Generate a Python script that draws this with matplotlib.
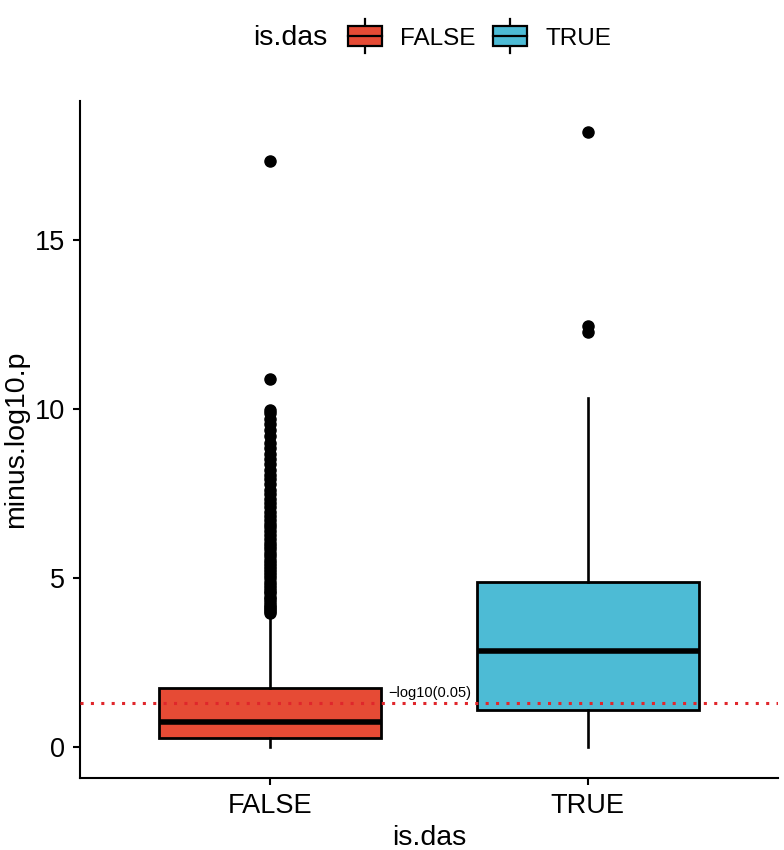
import matplotlib
matplotlib.use("Agg")
import matplotlib.pyplot as plt
from matplotlib.patches import Rectangle
from matplotlib.lines import Line2D
from matplotlib.legend_handler import HandlerBase

plt.rcParams['font.family'] = ['Liberation Sans', 'DejaVu Sans']

# values
groups = ['FALSE', 'TRUE']
colors = ['#E64B35', '#4DBBD5']
q1 = [0.27, 1.09]
median = [0.74, 2.84]
q3 = [1.75, 4.88]
whis_lo = [0.0, 0.0]
whis_hi = [3.88, 10.33]
fliers_false = [3.97, 4.02, 4.08, 4.15, 4.22, 4.30, 4.37, 4.45, 4.55, 4.63,
                4.72, 4.80, 4.90, 5.00, 5.08, 5.17, 5.27, 5.36, 5.45, 5.55,
                5.66, 5.75, 5.86, 5.95, 6.05, 6.16, 6.27, 6.38, 6.50, 6.60,
                6.72, 6.85, 6.97, 7.10, 7.22, 7.35, 7.50, 7.62, 7.78, 7.92,
                8.05, 8.20, 8.38, 8.52, 8.68, 8.85, 9.00, 9.20, 9.38, 9.55,
                9.72, 9.88, 9.98, 10.90, 17.35]
fliers_true = [12.28, 12.45, 18.20]
cutoff = 1.30  # -log10(0.05)

stats = []
fl = [fliers_false, fliers_true]
for i, g in enumerate(groups):
    stats.append(dict(label=g, q1=q1[i], med=median[i], q3=q3[i],
                      whislo=whis_lo[i], whishi=whis_hi[i], fliers=fl[i]))

fig = plt.figure(figsize=(7.84, 8.5), dpi=100)
ax = fig.add_axes([80 / 784, 72 / 850, 698 / 784, 677 / 850])

bp = ax.bxp(stats, positions=[1, 2], widths=0.7, patch_artist=True,
            showcaps=False,
            boxprops=dict(edgecolor='black', linewidth=2.0),
            medianprops=dict(color='black', linewidth=4.0),
            whiskerprops=dict(color='black', linewidth=1.9),
            flierprops=dict(marker='o', markerfacecolor='black',
                            markeredgecolor='black', markersize=8))
for patch, c in zip(bp['boxes'], colors):
    patch.set_facecolor(c)

ax.axhline(cutoff, color='#E0262B', linewidth=2.2, linestyle=(0, (1, 2.4)),
           zorder=5)
ax.annotate('\u2212log10(0.05)', xy=(1.37, cutoff), xytext=(0, 2.5),
            textcoords='offset points', fontsize=10.5, va='bottom', ha='left')

ax.set_xlim(0.4, 2.6)
ax.set_ylim(-0.91, 19.11)
ax.set_yticks([0, 5, 10, 15])
ax.set_xticks([1, 2])
ax.set_xticklabels(groups)
ax.tick_params(labelsize=19.5, length=5, width=1.5, colors='black', pad=6)
ax.set_xlabel('is.das', fontsize=20.5, labelpad=4)
ax.set_ylabel('minus.log10.p', fontsize=20.5, labelpad=4)
for s in ['top', 'right']:
    ax.spines[s].set_visible(False)
for s in ['left', 'bottom']:
    ax.spines[s].set_linewidth(1.5)


class BoxKey(HandlerBase):
    def create_artists(self, legend, orig_handle, xdescent, ydescent,
                       width, height, fontsize, trans):
        x0, y0 = -xdescent, -ydescent
        cx = x0 + width / 2
        v = Line2D([cx, cx], [y0 - height * 0.35, y0 + height * 1.35],
                   color='black', linewidth=1.6, transform=trans)
        r = Rectangle((x0, y0), width, height, facecolor=orig_handle,
                      edgecolor='black', linewidth=1.6, transform=trans)
        m = Line2D([x0, x0 + width], [y0 + height / 2] * 2, color='black',
                   linewidth=1.6, transform=trans)
        return [v, r, m]


handles = colors
fig.text(253 / 784, 1 - 38 / 850, 'is.das', fontsize=20.5, va='center', ha='left')
leg = fig.legend(handles, groups, handler_map={str: BoxKey()},
                 loc='center left', bbox_to_anchor=(348 / 784, 1 - 38 / 850),
                 ncol=2, frameon=False, fontsize=17.5, handlelength=1.4,
                 handleheight=0.9, handletextpad=0.74, columnspacing=0.74,
                 borderaxespad=0, borderpad=0)

fig.savefig('out.png', dpi=100)
